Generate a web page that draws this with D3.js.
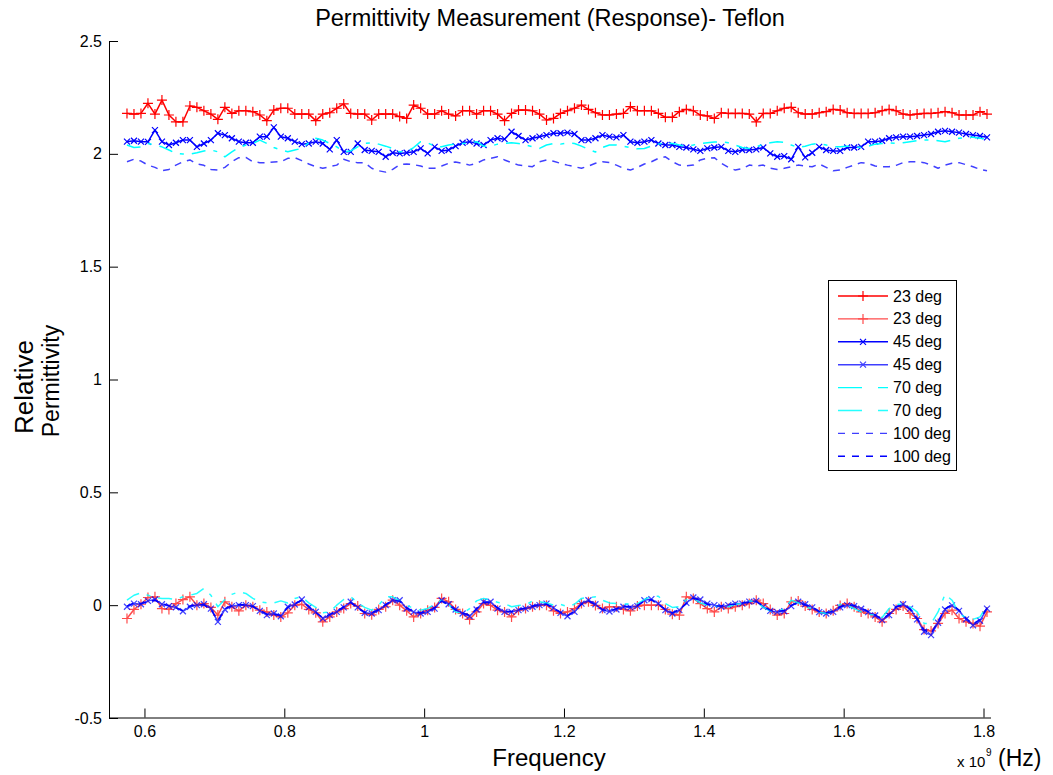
<!DOCTYPE html>
<html>
<head>
<meta charset="utf-8">
<script src="https://cdn.jsdelivr.net/npm/d3@7"></script>
<style>
  html, body { margin: 0; padding: 0; background: #fff; }
  svg { display: block; }
</style>
</head>
<body>
<div id="chart"></div>
<script>
// ============================================================
// Data (frequency in GHz)
// ============================================================

const freq = [
  0.575,0.585,0.595,0.605,0.615,0.625,0.635,0.645,0.655,0.665,
  0.675,0.685,0.695,0.705,0.715,0.725,0.735,0.745,0.755,0.765,
  0.775,0.785,0.795,0.805,0.815,0.825,0.835,0.845,0.855,0.865,
  0.875,0.885,0.895,0.905,0.915,0.925,0.935,0.945,0.955,0.965,
  0.975,0.985,0.995,1.005,1.015,1.025,1.035,1.045,1.055,1.065,
  1.075,1.085,1.095,1.105,1.115,1.125,1.135,1.145,1.155,1.165,
  1.175,1.185,1.195,1.205,1.215,1.225,1.235,1.245,1.255,1.265,
  1.275,1.285,1.295,1.305,1.315,1.325,1.335,1.345,1.355,1.365,
  1.375,1.385,1.395,1.405,1.415,1.425,1.435,1.445,1.455,1.465,
  1.475,1.485,1.495,1.505,1.515,1.525,1.535,1.545,1.555,1.565,
  1.575,1.585,1.595,1.605,1.615,1.625,1.635,1.645,1.655,1.665,
  1.675,1.685,1.695,1.705,1.715,1.725,1.735,1.745,1.755,1.765,
  1.775,1.785,1.795,1.805
];

const re23 = [
  2.179,2.176,2.179,2.224,2.176,2.238,2.172,2.142,2.142,2.212,
  2.206,2.191,2.176,2.153,2.206,2.179,2.191,2.191,2.187,2.172,
  2.147,2.194,2.202,2.202,2.176,2.176,2.176,2.147,2.176,2.182,
  2.202,2.221,2.179,2.176,2.176,2.150,2.176,2.176,2.176,2.165,
  2.157,2.216,2.202,2.176,2.176,2.191,2.176,2.168,2.191,2.191,
  2.176,2.191,2.191,2.176,2.147,2.179,2.194,2.194,2.191,2.176,
  2.150,2.157,2.179,2.191,2.202,2.216,2.197,2.182,2.172,2.172,
  2.176,2.179,2.209,2.191,2.191,2.191,2.179,2.162,2.162,2.187,
  2.197,2.191,2.172,2.168,2.157,2.182,2.179,2.179,2.179,2.176,
  2.142,2.179,2.179,2.191,2.202,2.206,2.182,2.176,2.176,2.182,
  2.187,2.197,2.194,2.182,2.179,2.179,2.179,2.182,2.191,2.197,
  2.191,2.176,2.172,2.176,2.179,2.179,2.182,2.187,2.182,2.172,
  2.172,2.172,2.187,2.176
];

const im23 = [
  -0.059,-0.019,0.004,0.034,0.037,-0.015,-0.019,0.007,0.025,0.037,
  0.000,0.007,-0.010,-0.044,0.015,-0.007,-0.025,0.000,-0.007,-0.022,
  -0.030,-0.044,-0.052,-0.034,0.000,0.004,-0.019,-0.034,-0.074,-0.052,
  -0.030,-0.015,0.007,-0.004,-0.037,-0.043,-0.019,-0.007,0.022,0.000,
  -0.025,-0.052,-0.037,-0.022,-0.010,0.030,0.015,-0.019,-0.037,-0.063,
  -0.030,0.007,-0.001,-0.022,-0.030,-0.052,-0.022,-0.015,-0.007,0.000,
  0.000,-0.025,-0.037,-0.030,-0.015,0.007,0.015,-0.001,-0.015,-0.007,
  -0.007,-0.019,-0.025,-0.004,0.000,0.000,0.000,-0.019,-0.040,-0.044,
  0.037,0.030,0.007,-0.015,-0.030,-0.007,-0.015,-0.007,0.000,0.007,
  0.022,0.007,-0.019,-0.044,-0.037,0.015,0.019,-0.004,-0.019,-0.030,
  -0.037,-0.025,-0.001,0.007,-0.007,-0.030,-0.037,-0.052,-0.074,-0.037,
  -0.019,-0.004,-0.037,-0.059,-0.108,-0.114,-0.081,-0.037,-0.022,-0.059,
  -0.074,-0.081,-0.093,-0.030
];

const re45 = [
  2.054,2.058,2.054,2.053,2.105,2.054,2.039,2.049,2.061,2.061,
  2.031,2.046,2.061,2.091,2.083,2.069,2.054,2.049,2.049,2.076,
  2.076,2.117,2.076,2.069,2.054,2.043,2.046,2.054,2.046,2.020,
  2.061,2.009,2.009,2.046,2.017,2.013,2.009,1.987,2.005,2.002,
  2.005,2.009,2.024,2.002,2.031,2.013,2.017,2.034,2.049,2.054,
  2.046,2.039,2.061,2.069,2.065,2.098,2.079,2.061,2.069,2.076,
  2.083,2.091,2.091,2.094,2.088,2.061,2.061,2.069,2.083,2.076,
  2.073,2.083,2.054,2.049,2.054,2.061,2.046,2.039,2.039,2.031,
  2.028,2.020,2.013,2.024,2.028,2.031,2.013,2.009,2.017,2.017,
  2.020,2.028,2.002,1.987,1.990,1.976,2.031,1.984,2.005,2.031,
  2.017,2.013,2.013,2.028,2.028,2.031,2.054,2.054,2.058,2.069,
  2.073,2.076,2.076,2.079,2.083,2.088,2.098,2.102,2.098,2.094,
  2.088,2.083,2.079,2.073
];

const im45 = [
  -0.007,0.007,0.004,0.019,0.025,0.004,-0.004,-0.010,-0.027,-0.007,
  0.000,0.004,-0.015,-0.074,-0.019,-0.004,0.000,0.000,-0.004,-0.025,
  -0.044,-0.037,-0.049,-0.007,0.003,0.025,-0.010,-0.030,-0.059,-0.044,
  -0.030,-0.010,0.015,-0.010,-0.034,-0.037,-0.022,0.000,0.022,0.022,
  -0.015,-0.030,-0.037,-0.030,-0.015,0.022,0.004,-0.019,-0.037,-0.049,
  -0.019,0.015,0.015,-0.015,-0.030,-0.030,-0.022,-0.015,-0.007,0.000,
  0.007,-0.012,-0.034,-0.049,-0.030,0.007,0.022,0.004,-0.022,-0.028,
  -0.019,-0.007,-0.010,-0.004,0.022,0.027,0.007,-0.022,-0.037,-0.022,
  0.010,0.034,0.025,0.007,0.000,-0.007,0.000,0.007,0.007,0.016,
  0.019,-0.007,-0.025,-0.031,-0.027,-0.004,0.015,0.004,-0.010,-0.031,
  -0.037,-0.030,-0.010,0.000,-0.004,-0.016,-0.031,-0.046,-0.066,-0.044,
  -0.010,0.004,-0.015,-0.063,-0.118,-0.133,-0.078,-0.019,-0.001,-0.025,
  -0.063,-0.089,-0.069,-0.015
];

const re70 = [
  2.039,2.028,2.031,2.046,2.039,2.031,2.017,2.002,1.999,1.999,
  2.005,2.013,2.017,2.009,1.987,2.009,2.028,2.039,2.046,2.061,
  2.046,2.028,2.017,2.009,2.017,2.024,2.049,2.069,2.061,2.046,
  2.031,2.009,2.013,2.031,2.046,2.049,2.043,2.034,2.024,2.009,
  2.009,2.028,2.054,2.049,2.034,2.031,2.039,2.043,2.046,2.049,
  2.054,2.034,2.034,2.043,2.046,2.049,2.046,2.039,2.031,2.024,
  2.039,2.046,2.043,2.049,2.046,2.034,2.020,2.008,2.028,2.039,
  2.039,2.034,2.028,2.022,2.024,2.034,2.043,2.049,2.046,2.039,
  2.034,2.039,2.046,2.049,2.052,2.054,2.049,2.039,2.028,2.024,
  2.031,2.043,2.049,2.054,2.051,2.039,2.028,2.034,2.043,2.046,
  2.039,2.031,2.031,2.034,2.031,2.028,2.034,2.043,2.046,2.049,
  2.046,2.049,2.054,2.058,2.061,2.061,2.058,2.054,2.061,2.069,
  2.073,2.073,2.069,2.065
];

const im70 = [
  0.022,0.044,0.055,0.044,0.034,0.030,0.030,0.025,0.037,0.044,
  0.052,0.074,0.044,-0.007,0.025,0.048,0.059,0.052,0.030,0.015,
  0.010,0.010,0.019,0.010,0.030,0.037,0.010,-0.010,-0.034,-0.030,
  0.000,0.025,0.037,0.010,-0.010,-0.022,0.000,0.037,0.037,0.019,
  0.000,-0.015,-0.022,-0.015,0.004,0.022,0.004,-0.030,-0.037,-0.015,
  0.019,0.030,0.022,0.013,0.007,-0.007,-0.001,0.000,0.019,0.015,
  0.010,0.000,0.004,-0.007,0.004,0.030,0.034,0.037,0.022,0.010,
  0.007,0.004,0.007,0.007,0.025,0.040,0.040,0.007,-0.010,-0.007,
  0.025,0.030,0.010,0.001,-0.004,-0.007,-0.007,0.004,0.007,0.019,
  0.015,-0.010,-0.025,-0.030,-0.015,0.022,0.010,-0.004,-0.019,-0.031,
  -0.037,-0.022,0.004,0.000,-0.015,-0.030,-0.040,-0.044,-0.055,-0.015,
  0.004,0.004,-0.007,-0.030,-0.081,-0.081,-0.030,0.048,0.022,-0.037,
  -0.055,-0.063,-0.052,-0.004
];

const re100 = [
  1.965,1.976,1.968,1.950,1.940,1.925,1.931,1.950,1.965,1.973,
  1.955,1.949,1.931,1.928,1.940,1.965,1.983,1.984,1.965,1.961,
  1.961,1.964,1.965,1.980,1.983,1.970,1.955,1.943,1.936,1.943,
  1.950,1.976,1.965,1.961,1.961,1.936,1.925,1.919,1.931,1.952,
  1.955,1.952,1.946,1.936,1.936,1.946,1.958,1.964,1.958,1.950,
  1.958,1.973,1.980,1.987,1.973,1.961,1.950,1.946,1.943,1.965,
  1.973,1.967,1.958,1.950,1.943,1.936,1.946,1.958,1.965,1.961,
  1.950,1.936,1.928,1.940,1.955,1.965,1.980,1.987,1.965,1.950,
  1.947,1.950,1.973,1.980,1.983,1.958,1.940,1.928,1.934,1.950,
  1.946,1.950,1.936,1.931,1.936,1.943,1.950,1.946,1.943,1.955,
  1.940,1.925,1.928,1.940,1.950,1.961,1.958,1.946,1.943,1.943,
  1.949,1.961,1.965,1.965,1.961,1.950,1.936,1.950,1.958,1.961,
  1.952,1.943,1.931,1.925
];

const im100 = [
  -0.004,0.010,0.007,0.016,0.022,0.007,-0.002,-0.012,-0.024,-0.004,
  0.002,0.001,-0.018,-0.068,-0.016,-0.002,0.003,0.002,-0.006,-0.022,
  -0.040,-0.039,-0.046,-0.010,0.006,0.022,-0.006,-0.033,-0.055,-0.041,
  -0.027,-0.007,0.012,-0.013,-0.031,-0.034,-0.019,0.003,0.019,0.018,
  -0.012,-0.028,-0.034,-0.027,-0.012,0.018,0.001,-0.022,-0.034,-0.046,
  -0.016,0.012,0.012,-0.012,-0.027,-0.028,-0.019,-0.012,-0.004,0.003,
  0.004,-0.015,-0.031,-0.046,-0.027,0.004,0.019,0.001,-0.019,-0.025,
  -0.016,-0.004,-0.007,-0.001,0.019,0.024,0.004,-0.019,-0.034,-0.019,
  0.007,0.031,0.022,0.004,-0.003,-0.004,0.003,0.004,0.010,0.013,
  0.016,-0.004,-0.022,-0.028,-0.024,-0.001,0.012,0.001,-0.007,-0.028,
  -0.034,-0.027,-0.007,0.003,-0.001,-0.013,-0.028,-0.043,-0.061,-0.040,
  -0.007,0.001,-0.018,-0.058,-0.110,-0.125,-0.072,-0.016,0.002,-0.022,
  -0.058,-0.083,-0.064,-0.012
];

const seriesLabels = ["23 deg", "23 deg", "45 deg", "45 deg", "70 deg", "70 deg", "100 deg", "100 deg"];
const seriesValues = [re23, im23, re45, im45, re70, im70, re100, im100];

const xTicks = [0.6, 0.8, 1.0, 1.2, 1.4, 1.6, 1.8];
const xTickLabels = ["0.6", "0.8", "1", "1.2", "1.4", "1.6", "1.8"];
const yTicks = [-0.5, 0, 0.5, 1, 1.5, 2, 2.5];
const yTickLabels = ["-0.5", "0", "0.5", "1", "1.5", "2", "2.5"];

// ============================================================
// Styles (one per series, same order as seriesValues)
// ============================================================

const STYLES = [
  { color: "#ff0000", opacity: 1,    dash: null,         marker: "plus"  },
  { color: "#ff0000", opacity: 0.7,  dash: null,         marker: "plus"  },
  { color: "#0000ff", opacity: 1,    dash: null,         marker: "cross" },
  { color: "#0000ff", opacity: 0.75, dash: null,         marker: "cross" },
  { color: "#00ffff", opacity: 1,    dash: "14,8,4,8",   marker: null    },
  { color: "#00ffff", opacity: 0.85, dash: "14,8,4,8",   marker: null    },
  { color: "#0000ff", opacity: 0.75, dash: "7,6",        marker: null    },
  { color: "#0000ff", opacity: 1,    dash: "7,6",        marker: null    },
];

const MARKERS = {
  plus:  "M-5,0H5M0,-5V5",
  cross: "M-3,-3L3,3M-3,3L3,-3",
};

const FONT = "'Liberation Sans', Arial, Helvetica, sans-serif";

// ============================================================
// Canvas + scales
// ============================================================

const W = 1053;
const H = 775;

const svg = d3.select("#chart")
  .append("svg")
  .attr("width", W)
  .attr("height", H)
  .style("font-family", FONT);

svg.append("rect").attr("width", W).attr("height", H).attr("fill", "#fff");

const x = d3.scaleLinear().domain([0.55, 1.81]).range([109.5, 990.5]);
const y = d3.scaleLinear().domain([-0.5, 2.5]).range([718, 41]);

// --- axes (MATLAB style: ticks point inward, no box) ---
const xAxis = svg.append("g")
  .attr("transform", `translate(0,${y(-0.5) - 0.5})`)
  .call(d3.axisBottom(x)
    .tickValues(xTicks)
    .tickFormat((d, i) => xTickLabels[i])
    .tickSizeInner(-9)
    .tickSizeOuter(0)
    .tickPadding(8));

const yAxis = svg.append("g")
  .attr("transform", `translate(${x(0.55) - 0.5},0)`)
  .call(d3.axisLeft(y)
    .tickValues(yTicks)
    .tickFormat((d, i) => yTickLabels[i])
    .tickSizeInner(-9)
    .tickSizeOuter(0)
    .tickPadding(7));

[xAxis, yAxis].forEach((g) => {
  g.selectAll("path, line").attr("stroke", "#000").attr("stroke-width", 1);
  g.selectAll("text")
    .attr("fill", "#000")
    .style("font-family", FONT)
    .style("font-size", "16px");
});

// ============================================================
// Series
// ============================================================

const line = d3.line()
  .x((d) => x(d.f))
  .y((d) => y(d.v));

const plotG = svg.append("g").attr("class", "series");

seriesValues.forEach((vals, k) => {
  const st = STYLES[k];
  const pts = vals.map((v, i) => ({ f: freq[i], v }));
  const g = plotG.append("g").attr("opacity", st.opacity);

  g.append("path")
    .datum(pts)
    .attr("d", line)
    .attr("fill", "none")
    .attr("stroke", st.color)
    .attr("stroke-width", 1.5)
    .attr("stroke-linejoin", "round")
    .attr("stroke-dasharray", st.dash);

  if (st.marker) {
    g.selectAll("path.mk")
      .data(pts)
      .join("path")
      .attr("class", "mk")
      .attr("transform", (d) => `translate(${x(d.f)},${y(d.v)})`)
      .attr("d", MARKERS[st.marker])
      .attr("fill", "none")
      .attr("stroke", st.color)
      .attr("stroke-width", 1.2);
  }
});

// ============================================================
// Legend
// ============================================================

const legendG = svg.append("g").attr("class", "legend");

legendG.append("rect")
  .attr("x", 828.5).attr("y", 280.5)
  .attr("width", 128).attr("height", 190)
  .attr("fill", "#fff")
  .attr("stroke", "#000")
  .attr("stroke-width", 1);

const legendDash = [null, null, null, null, "24,16,10", "24,16,10", "7,7", "7,7"];

seriesLabels.forEach((label, k) => {
  const st = STYLES[k];
  const ly = 296 + k * 22.9;
  const row = legendG.append("g").attr("opacity", st.opacity);

  row.append("line")
    .attr("x1", 838).attr("x2", 888)
    .attr("y1", ly).attr("y2", ly)
    .attr("stroke", st.color)
    .attr("stroke-width", 1.4)
    .attr("stroke-dasharray", legendDash[k]);

  if (st.marker) {
    row.append("path")
      .attr("transform", `translate(863,${ly})`)
      .attr("d", MARKERS[st.marker])
      .attr("fill", "none")
      .attr("stroke", st.color)
      .attr("stroke-width", 1.2);
  }

  legendG.append("text")
    .attr("x", 893)
    .attr("y", ly + 5.5)
    .attr("font-size", "16px")
    .attr("fill", "#000")
    .text(label);
});

// ============================================================
// Titles and labels
// ============================================================

svg.append("text")
  .attr("x", 550).attr("y", 26)
  .attr("text-anchor", "middle")
  .attr("font-size", "23.5px")
  .attr("fill", "#000")
  .text("Permittivity Measurement (Response)- Teflon");

svg.append("text")
  .attr("x", 549).attr("y", 766)
  .attr("text-anchor", "middle")
  .attr("font-size", "24px")
  .attr("fill", "#000")
  .text("Frequency");

svg.append("text")
  .attr("transform", "translate(33,387) rotate(-90)")
  .attr("text-anchor", "middle")
  .attr("font-size", "26px")
  .attr("fill", "#000")
  .text("Relative");

svg.append("text")
  .attr("transform", "translate(59,381) rotate(-90)")
  .attr("text-anchor", "middle")
  .attr("font-size", "23px")
  .attr("fill", "#000")
  .text("Permittivity");

// --- exponent note on the x axis ---
svg.append("text")
  .attr("x", 957).attr("y", 767)
  .attr("font-size", "15px")
  .attr("fill", "#000")
  .text("x 10");

svg.append("text")
  .attr("x", 986).attr("y", 756)
  .attr("font-size", "10px")
  .attr("fill", "#000")
  .text("9");

svg.append("text")
  .attr("x", 998).attr("y", 766)
  .attr("font-size", "23px")
  .attr("fill", "#000")
  .text("(Hz)");
</script>
</body>
</html>
